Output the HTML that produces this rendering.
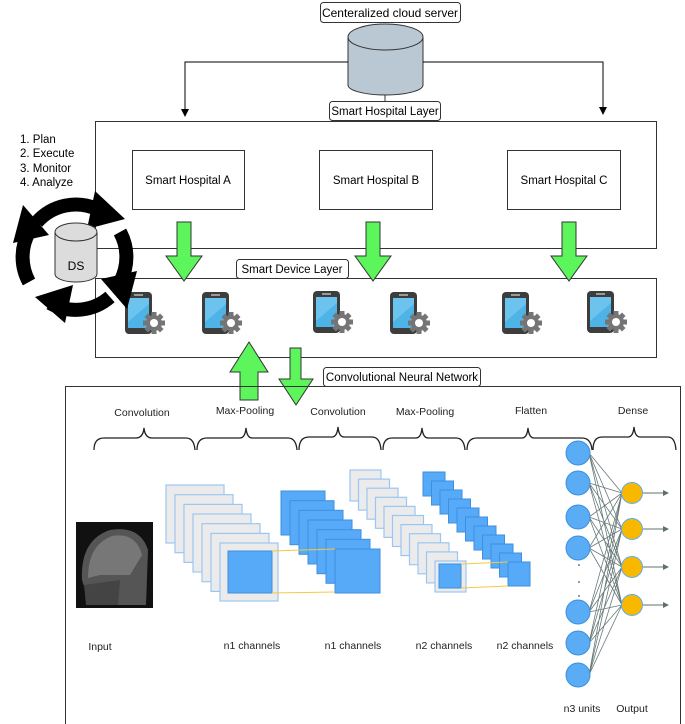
<!DOCTYPE html>
<html><head><meta charset="utf-8"><style>
html,body{margin:0;padding:0;background:#fff;}
svg{display:block;font-family:"Liberation Sans",Arial,sans-serif;}
</style></head><body>
<svg width="685" height="724" viewBox="0 0 685 724" xmlns="http://www.w3.org/2000/svg">
<defs>
<marker id="ah" markerWidth="8" markerHeight="8" refX="7" refY="4" orient="auto" markerUnits="userSpaceOnUse"><path d="M0,0 L8,4 L0,8 Z" fill="#000"/></marker>
<marker id="ag" markerWidth="6" markerHeight="6" refX="5" refY="3" orient="auto" markerUnits="userSpaceOnUse"><path d="M0,0 L6,3 L0,6 Z" fill="#607070"/></marker>
<g id="phone">
<rect x="0" y="0" width="27" height="42" rx="4" fill="#3d3d3d"/>
<rect x="3" y="6" width="21" height="30" fill="#4eb3e6"/>
<path d="M3,6 L24,6 L24,12 L3,30 Z" fill="#6cc3ee"/>
<rect x="9" y="2" width="9" height="2" fill="#999"/>
<g transform="translate(29,31)">
<circle r="8" fill="#757575"/>
<g fill="#757575"><rect x="-2.5" y="-11" width="5" height="22"/><rect x="-2.5" y="-11" width="5" height="22" transform="rotate(45)"/><rect x="-2.5" y="-11" width="5" height="22" transform="rotate(90)"/><rect x="-2.5" y="-11" width="5" height="22" transform="rotate(135)"/></g>
<circle r="4" fill="#fff"/>
</g>
</g>
</defs>

<!-- cloud -->
<rect x="320.5" y="2.5" width="140" height="20" rx="3" fill="#fff" stroke="#333"/>
<text x="390" y="17" font-size="12" text-anchor="middle">Centeralized cloud server</text>
<path d="M348,37 L348,85 A37.5,10 0 0 0 423,85 L423,37" fill="#b9c8d3" stroke="#333"/>
<ellipse cx="385.5" cy="37" rx="37.5" ry="13" fill="#b9c8d3" stroke="#333"/>
<path d="M348,62 L185,62 L185,116" fill="none" stroke="#000" marker-end="url(#ah)"/>
<path d="M423,62 L603,62 L603,114" fill="none" stroke="#000" marker-end="url(#ah)"/>
<line x1="385" y1="95" x2="385" y2="101" stroke="#333"/>

<!-- hospital layer -->
<rect x="95.5" y="121.5" width="561" height="127" fill="#fff" stroke="#333"/>
<rect x="329.5" y="101.5" width="111" height="19" rx="3" fill="#fff" stroke="#333"/>
<text x="385" y="115" font-size="11.5" text-anchor="middle">Smart Hospital Layer</text>
<rect x="132.5" y="150.5" width="112" height="59" fill="#fff" stroke="#333"/>
<rect x="319.5" y="150.5" width="113" height="59" fill="#fff" stroke="#333"/>
<rect x="507.5" y="150.5" width="113" height="59" fill="#fff" stroke="#333"/>
<text x="188" y="184" font-size="11.5" text-anchor="middle">Smart Hospital A</text>
<text x="376" y="184" font-size="11.5" text-anchor="middle">Smart Hospital B</text>
<text x="564" y="184" font-size="11.5" text-anchor="middle">Smart Hospital C</text>

<text font-size="11.5"><tspan x="20" y="143">1. Plan</tspan><tspan x="20" y="157">2. Execute</tspan><tspan x="20" y="172">3. Monitor</tspan><tspan x="20" y="186">4. Analyze</tspan></text>

<!-- device layer -->
<rect x="95.5" y="278.5" width="561" height="79" fill="#fff" stroke="#333"/>
<rect x="236.5" y="259.5" width="112" height="19" rx="3" fill="#fff" stroke="#333"/>
<text x="292" y="273" font-size="11.5" text-anchor="middle">Smart Device Layer</text>
<use href="#phone" x="125" y="292"/>
<use href="#phone" x="202" y="292"/>
<use href="#phone" x="313" y="291"/>
<use href="#phone" x="390" y="292"/>
<use href="#phone" x="502" y="292"/>
<use href="#phone" x="587" y="291"/>

<!-- green arrows -->
<g fill="#5cf55c" stroke="#333" stroke-width="1">
<path d="M177,222 L191,222 L191,256 L202,256 L184,281 L166,256 L177,256 Z"/>
<path d="M366,222 L380,222 L380,256 L391,256 L373,281 L355,256 L366,256 Z"/>
<path d="M562,222 L576,222 L576,256 L587,256 L569,281 L551,256 L562,256 Z"/>
<path d="M249,342 L268,372 L258,372 L258,400 L240,400 L240,372 L230,372 Z"/>
<path d="M290,348 L301,348 L301,379 L313,379 L296,405 L279,379 L290,379 Z"/>
</g>

<!-- cycle -->
<g transform="translate(75,257)">
<g fill="none" stroke="#000" stroke-width="14">
<path d="M-38,-35 A52,52 0 0 1 22,-48"/>
<path d="M45,-25 A52,52 0 0 1 45,25"/>
<path d="M35,40 A52,52 0 0 1 -25,46"/>
<path d="M-46,25 A52,52 0 0 1 -46,-25"/>
</g>
<g fill="#000">
<path d="M20,-66 L50,-38 L12,-28 Z"/>
<path d="M62,14 L52,52 L26,22 Z"/>
<path d="M-10,66 L-40,40 L-2,28 Z"/>
<path d="M-62,-14 L-52,-52 L-26,-22 Z"/>
</g>
<path d="M-20,-25 L-20,17 A21,8 0 0 0 22,17 L22,-25" fill="#dcdcdc" stroke="#333"/>
<ellipse cx="1" cy="-25" rx="21" ry="9" fill="#dcdcdc" stroke="#333"/>
<text x="1" y="13" font-size="12" text-anchor="middle">DS</text>
</g>

<!-- CNN -->
<rect x="65.5" y="386.5" width="615" height="340" fill="none" stroke="#333"/>
<rect x="323.5" y="367.5" width="157" height="19" rx="3" fill="#fff" stroke="#333"/>
<text x="402" y="381" font-size="11.5" text-anchor="middle">Convolutional Neural Network</text>
<g font-size="10.5" text-anchor="middle" fill="#222">
<text x="142" y="416">Convolution</text>
<text x="245" y="414">Max-Pooling</text>
<text x="338" y="415">Convolution</text>
<text x="425" y="415">Max-Pooling</text>
<text x="531" y="414">Flatten</text>
<text x="633" y="414">Dense</text>
<text x="100" y="650">Input</text>
<text x="252" y="649">n1 channels</text>
<text x="353" y="649">n1 channels</text>
<text x="444" y="649">n2 channels</text>
<text x="525" y="649">n2 channels</text>
<text x="582" y="712">n3 units</text>
<text x="632" y="712">Output</text>
</g>
<g fill="none" stroke="#222" stroke-width="1.3">
<path d="M94,450 Q94,438 104,438 L136,438 Q143,438 144,428 Q145,438 152,438 L186,438 Q194,438 195,450"/>
<path d="M197,450 Q197,438 207,438 L240,438 Q245,438 246,428 Q247,438 252,438 L288,438 Q296,438 297,450"/>
<path d="M299,450 Q299,437 309,437 L332,437 Q337,437 338,427 Q339,437 344,437 L372,437 Q380,437 381,450"/>
<path d="M383,450 Q383,438 392,438 L416,438 Q421,438 422,428 Q423,438 428,438 L456,438 Q464,438 465,450"/>
<path d="M467,450 Q467,438 477,438 L522,438 Q527,438 528,428 Q529,438 534,438 L582,438 Q591,438 592,450"/>
<path d="M593,450 Q593,437 602,437 L628,437 Q633,437 634,427 Q635,437 640,437 L668,437 Q675,437 676,450"/>
</g>

<!-- MRI -->
<rect x="76" y="522" width="77" height="86" fill="#111"/>
<path d="M82,580 Q80,540 110,530 Q140,525 148,550 L146,605 L90,605 Z" fill="#555"/>
<path d="M88,578 Q88,545 112,536 Q136,532 142,555 L130,575 L100,575 Z" fill="#777"/>
<path d="M84,585 L120,580 L118,605 L86,605 Z" fill="#444"/>

<!-- stack 1 -->
<g fill="#ebebeb" stroke="#9cc6f2" stroke-width="1.2">
<rect x="166" y="485" width="58" height="58"/><rect x="175" y="494.7" width="58" height="58"/><rect x="184" y="504.4" width="58" height="58"/><rect x="193" y="514" width="58" height="58"/><rect x="202" y="523.7" width="58" height="58"/><rect x="211" y="533.4" width="58" height="58"/><rect x="220" y="543" width="58" height="58"/>
</g>
<rect x="228" y="551" width="44" height="42" fill="#57aaf7" stroke="#3d8fe0"/>
<!-- stack 2 -->
<g fill="#57aaf7" stroke="#3d8fe0" stroke-width="1">
<rect x="281" y="491" width="44" height="44"/><rect x="290" y="500.7" width="44" height="44"/><rect x="299" y="510.3" width="44" height="44"/><rect x="308" y="520" width="44" height="44"/><rect x="317" y="529.7" width="44" height="44"/><rect x="326" y="539.3" width="44" height="44"/><rect x="335" y="549" width="45" height="44"/>
</g>
<g stroke="#f5c842" stroke-width="1"><line x1="272" y1="551" x2="335" y2="549"/><line x1="272" y1="593" x2="335" y2="592"/></g>
<!-- stack 3 -->
<g fill="#ebebeb" stroke="#9cc6f2" stroke-width="1.2">
<rect x="350" y="470" width="31" height="31"/><rect x="358.5" y="479.1" width="31" height="31"/><rect x="367" y="488.2" width="31" height="31"/><rect x="375.5" y="497.3" width="31" height="31"/><rect x="384" y="506.4" width="31" height="31"/><rect x="392.5" y="515.5" width="31" height="31"/><rect x="401" y="524.6" width="31" height="31"/><rect x="409.5" y="533.7" width="31" height="31"/><rect x="418" y="542.8" width="31" height="31"/><rect x="426.5" y="551.9" width="31" height="31"/><rect x="435" y="561" width="31" height="31"/>
</g>
<rect x="439" y="564" width="22" height="24" fill="#57aaf7" stroke="#3d8fe0"/>
<!-- stack 4 -->
<g fill="#57aaf7" stroke="#3d8fe0" stroke-width="1">
<rect x="423" y="472" width="22" height="24"/><rect x="431.5" y="481" width="22" height="24"/><rect x="440" y="490" width="22" height="24"/><rect x="448.5" y="499" width="22" height="24"/><rect x="457" y="508" width="22" height="24"/><rect x="465.5" y="517" width="22" height="24"/><rect x="474" y="526" width="22" height="24"/><rect x="482.5" y="535" width="22" height="24"/><rect x="491" y="544" width="22" height="24"/><rect x="499.5" y="553" width="22" height="24"/><rect x="508" y="562" width="22" height="24"/>
</g>
<g stroke="#f5c842" stroke-width="1"><line x1="461" y1="564" x2="508" y2="562"/><line x1="461" y1="588" x2="508" y2="586"/></g>

<!-- dense net -->
<g stroke="#6a7a7a" stroke-width="0.8">
<path d="M589,453 L622,493 M589,453 L622,529 M589,453 L622,567 M589,453 L622,605
M589,483 L622,493 M589,483 L622,529 M589,483 L622,567 M589,483 L622,605
M589,517 L622,493 M589,517 L622,529 M589,517 L622,567 M589,517 L622,605
M589,548 L622,493 M589,548 L622,529 M589,548 L622,567 M589,548 L622,605
M589,612 L622,493 M589,612 L622,529 M589,612 L622,567 M589,612 L622,605
M589,643 L622,493 M589,643 L622,529 M589,643 L622,567 M589,643 L622,605
M589,675 L622,493 M589,675 L622,529 M589,675 L622,567 M589,675 L622,605"/>
</g>
<g fill="#5aacf5" stroke="#3d8fe0">
<circle cx="578" cy="453" r="12"/><circle cx="578" cy="483" r="12"/><circle cx="578" cy="517" r="12"/><circle cx="578" cy="548" r="12"/><circle cx="578" cy="612" r="12"/><circle cx="578" cy="643" r="12"/><circle cx="578" cy="675" r="12"/>
</g>
<g fill="#555"><circle cx="579" cy="565" r="0.9"/><circle cx="579" cy="582" r="0.9"/><circle cx="579" cy="596" r="0.9"/></g>
<g fill="#f8b800" stroke="#5aacf5" stroke-width="1">
<circle cx="632" cy="493" r="10.5"/><circle cx="632" cy="529" r="10.5"/><circle cx="632" cy="567" r="10.5"/><circle cx="632" cy="605" r="10.5"/>
</g>
<g stroke="#607070" stroke-width="1">
<line x1="643" y1="493" x2="668" y2="493" marker-end="url(#ag)"/>
<line x1="643" y1="529" x2="668" y2="529" marker-end="url(#ag)"/>
<line x1="643" y1="567" x2="668" y2="567" marker-end="url(#ag)"/>
<line x1="643" y1="605" x2="668" y2="605" marker-end="url(#ag)"/>
</g>
</svg>
</body></html>
